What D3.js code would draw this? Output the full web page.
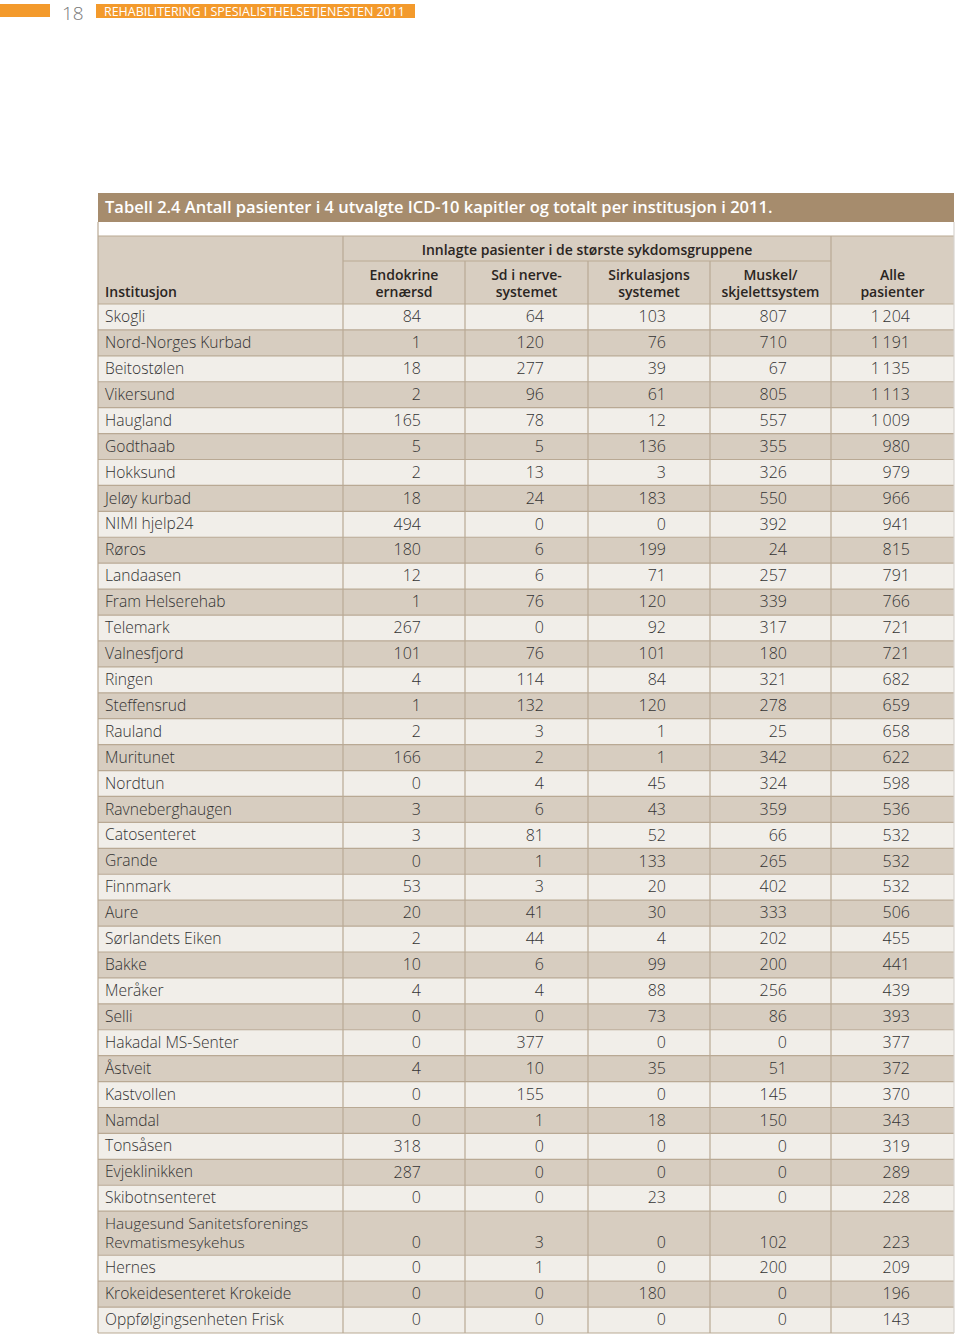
<!DOCTYPE html>
<html>
<head>
<meta charset="utf-8">
<script src="https://cdn.jsdelivr.net/npm/d3@7"></script>
<style>
  body { margin: 0; background: #fff; }
  svg { display: block; }
</style>
</head>
<body>
<svg id="chart" width="960" height="1338"></svg>
<script>
// ---------- DATA ----------
const pageNumber = "18";
const runningHead = "REHABILITERING I SPESIALISTHELSETJENESTEN 2011";
const tableTitle = "Tabell 2.4 Antall pasienter i 4 utvalgte ICD-10 kapitler og totalt per institusjon i 2011.";
const groupHeader = "Innlagte pasienter i de største sykdomsgruppene";
const firstHeader = "Institusjon";
const columnHeaders = [
  ["Endokrine", "ernærsd"],
  ["Sd i nerve-", "systemet"],
  ["Sirkulasjons", "systemet"],
  ["Muskel/", "skjelettsystem"],
  ["Alle", "pasienter"]
];
const institutions = [
  "Skogli", "Nord-Norges Kurbad", "Beitostølen", "Vikersund", "Haugland", "Godthaab",
  "Hokksund", "Jeløy kurbad", "NIMI hjelp24", "Røros", "Landaasen", "Fram Helserehab",
  "Telemark", "Valnesfjord", "Ringen", "Steffensrud", "Rauland", "Muritunet", "Nordtun",
  "Ravneberghaugen", "Catosenteret", "Grande", "Finnmark", "Aure", "Sørlandets Eiken",
  "Bakke", "Meråker", "Selli", "Hakadal MS-Senter", "Åstveit", "Kastvollen", "Namdal",
  "Tonsåsen", "Evjeklinikken", "Skibotnsenteret",
  "Haugesund Sanitetsforenings\nRevmatismesykehus",
  "Hernes", "Krokeidesenteret Krokeide", "Oppfølgingsenheten Frisk"
];
const endokrine = [84, 1, 18, 2, 165, 5, 2, 18, 494, 180, 12, 1, 267, 101, 4, 1, 2, 166, 0, 3, 3, 0, 53, 20, 2, 10, 4, 0, 0, 4, 0, 0, 318, 287, 0, 0, 0, 0, 0];
const nerve     = [64, 120, 277, 96, 78, 5, 13, 24, 0, 6, 6, 76, 0, 76, 114, 132, 3, 2, 4, 6, 81, 1, 3, 41, 44, 6, 4, 0, 377, 10, 155, 1, 0, 0, 0, 3, 1, 0, 0];
const sirkulasjon = [103, 76, 39, 61, 12, 136, 3, 183, 0, 199, 71, 120, 92, 101, 84, 120, 1, 1, 45, 43, 52, 133, 20, 30, 4, 99, 88, 73, 0, 35, 0, 18, 0, 0, 23, 0, 0, 180, 0];
const muskel    = [807, 710, 67, 805, 557, 355, 326, 550, 392, 24, 257, 339, 317, 180, 321, 278, 25, 342, 324, 359, 66, 265, 402, 333, 202, 200, 256, 86, 0, 51, 145, 150, 0, 0, 0, 102, 200, 0, 0];
const alle      = [1204, 1191, 1135, 1113, 1009, 980, 979, 966, 941, 815, 791, 766, 721, 721, 682, 659, 658, 622, 598, 536, 532, 532, 532, 506, 455, 441, 439, 393, 377, 372, 370, 343, 319, 289, 228, 223, 209, 196, 143];
const series = [endokrine, nerve, sirkulasjon, muskel, alle];

// ---------- LAYOUT ----------
const colEdges = [98, 343, 465, 588, 710, 831, 954];
const tableTop = 304, tableBottom = 1333;
const numRightPad = 44;
const colors = {
  orange: "#f39a2c",
  title: "#a68c6d",
  header: "#d8cec1",
  dark: "#d7cdc0",
  light: "#f1eee9",
  line: "#b9a994",
  text: "#333333",
  headText: "#2a2522"
};
const font = "'Open Sans', 'DejaVu Sans', sans-serif";

const svg = d3.select("#chart");
const fmt = d3.formatLocale({ decimal: ",", thousands: "\u2009", grouping: [3], currency: ["", ""] }).format(",d");

// Running head
svg.append("rect").attr("x", 0).attr("y", 4).attr("width", 50).attr("height", 13).attr("fill", colors.orange);
svg.append("text").attr("x", 62).attr("y", 20).attr("font-family", font).attr("font-size", 19)
  .attr("font-weight", 300).attr("fill", "#7a7a7a").text(pageNumber);
svg.append("rect").attr("x", 96).attr("y", 4).attr("width", 319).attr("height", 14).attr("fill", colors.orange);
svg.append("text").attr("x", 104).attr("y", 15.5).attr("font-family", font).attr("font-size", 12)
  .attr("fill", "#fff").attr("textLength", 301).attr("lengthAdjust", "spacingAndGlyphs").text(runningHead);

// Title bar
svg.append("rect").attr("x", colEdges[0]).attr("y", 193).attr("width", colEdges[6] - colEdges[0]).attr("height", 29)
  .attr("fill", colors.title);
svg.append("text").attr("x", 105).attr("y", 213).attr("font-family", font).attr("font-size", 16.5)
  .attr("font-weight", 600).attr("fill", "#fff").text(tableTitle);

// Header area
const headTop = 236;
svg.append("rect").attr("x", colEdges[0]).attr("y", headTop).attr("width", colEdges[6] - colEdges[0])
  .attr("height", tableTop - headTop).attr("fill", colors.header);

// Rows: units (two-line row is taller)
const units = institutions.map(n => n.includes("\n") ? 1.7 : 1);
const cum = [0];
units.forEach(u => cum.push(cum[cum.length - 1] + u));
const y = d3.scaleLinear().domain([0, cum[cum.length - 1]]).range([tableTop, tableBottom]);

const rows = institutions.map((name, i) => ({
  name, i, y0: y(cum[i]), y1: y(cum[i + 1]),
  values: series.map(s => s[i])
}));

const rowG = svg.append("g").selectAll("g").data(rows).join("g");
rowG.append("rect").attr("x", colEdges[0]).attr("y", d => d.y0).attr("width", colEdges[6] - colEdges[0])
  .attr("height", d => d.y1 - d.y0).attr("fill", d => d.i % 2 === 0 ? colors.light : colors.dark);

rowG.each(function (d) {
  const g = d3.select(this);
  const lines = d.name.split("\n");
  const cy = (d.y0 + d.y1) / 2;
  const offs = lines.length === 1 ? [-0.5] : [-10, 9];
  lines.forEach((ln, k) => {
    g.append("text").attr("x", 105).attr("y", cy + offs[k]).attr("dy", "0.36em")
      .attr("font-family", font).attr("font-size", lines.length === 1 ? 15.6 : 15.4).attr("font-weight", 300)
      .attr("fill", colors.text).text(ln);
  });
  d.values.forEach((v, c) => {
    g.append("text").attr("x", colEdges[c + 2] - numRightPad)
      .attr("y", cy + offs[offs.length - 1]).attr("dy", "0.36em").attr("text-anchor", "end")
      .attr("font-family", font).attr("font-size", 16).attr("font-weight", 300)
      .attr("fill", colors.text).text(fmt(v));
  });
});

// Grid lines
const lineG = svg.append("g").attr("stroke", colors.line).attr("stroke-width", 1.2);
rows.forEach(d => {
  lineG.append("line").attr("x1", colEdges[0]).attr("x2", colEdges[6]).attr("y1", d.y0).attr("y2", d.y0);
});
lineG.append("line").attr("x1", colEdges[0]).attr("x2", colEdges[6]).attr("y1", tableBottom).attr("y2", tableBottom);
lineG.append("line").attr("x1", colEdges[0]).attr("x2", colEdges[6]).attr("y1", headTop).attr("y2", headTop);
lineG.append("line").attr("x1", colEdges[1]).attr("x2", colEdges[5]).attr("y1", 261).attr("y2", 261);
[colEdges[1], colEdges[5]].forEach(x => {
  lineG.append("line").attr("x1", x).attr("x2", x).attr("y1", headTop).attr("y2", tableBottom);
});
[colEdges[2], colEdges[3], colEdges[4]].forEach(x => {
  lineG.append("line").attr("x1", x).attr("x2", x).attr("y1", 261).attr("y2", tableBottom);
});
lineG.append("line").attr("x1", colEdges[0]).attr("x2", colEdges[0]).attr("y1", 222).attr("y2", tableBottom);
lineG.append("line").attr("x1", colEdges[6]).attr("x2", colEdges[6]).attr("y1", 222).attr("y2", tableBottom)
  .attr("stroke", "#d8d4cf");

// Header text
const hText = (x, yy, t, anchor) => svg.append("text").attr("x", x).attr("y", yy)
  .attr("font-family", font).attr("font-size", 14).attr("font-weight", 600)
  .attr("fill", colors.headText).attr("text-anchor", anchor || "middle").text(t);
hText(105, 297, firstHeader, "start");
hText((colEdges[1] + colEdges[5]) / 2, 255, groupHeader);
columnHeaders.forEach((lines, c) => {
  const cx = (colEdges[c + 1] + colEdges[c + 2]) / 2;
  hText(cx, 280, lines[0]);
  hText(cx, 297, lines[1]);
});
</script>
</body>
</html>
